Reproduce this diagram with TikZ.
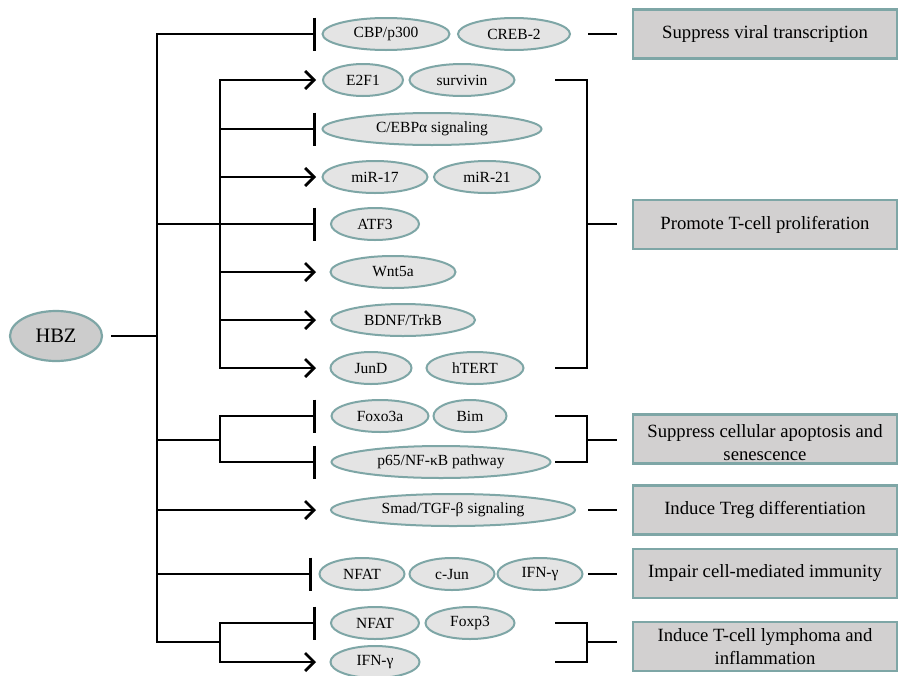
\documentclass[tikz,border=0pt]{standalone}
\usepackage{fontspec}
\setmainfont{Liberation Serif}
\usetikzlibrary{shapes.geometric,arrows.meta}
\definecolor{tealline}{HTML}{7EA6A6}
\definecolor{efill}{HTML}{E4E4E4}
\definecolor{hfill}{HTML}{CCCCCC}
\definecolor{bfill}{HTML}{D2D0D0}
\tikzset{
 gene/.style={ellipse, draw=tealline, line width=2pt, fill=efill, inner sep=0pt, font=\fontsize{15.5}{18}\selectfont, minimum height=32pt},
 effect/.style={rectangle, draw=tealline, line width=2.2pt, fill=bfill, minimum width=264pt, minimum height=49pt, inner sep=0pt, align=center, font=\fontsize{18.7}{23}\selectfont},
 conn/.style={line width=2.8pt, black},
 actip/.tip={Straight Barb[length=9pt,width=18pt]},
 bartip/.tip={Bar[width=33pt]},
 act/.style={conn, -actip},
 inh/.style={conn, -bartip},
}
\begin{document}
\begin{tikzpicture}[x=1pt,y=-1pt]
\fill[white] (0,0) rectangle (899,675);
\useasboundingbox (0,0) rectangle (899,675);

% HBZ
\node[ellipse, draw=tealline, line width=2.2pt, fill=hfill, minimum width=92pt, minimum height=50pt, inner sep=0pt, font=\fontsize{20.5}{24}\selectfont] (hbz) at (56,336) {HBZ};

% genes
\node[gene,minimum width=127pt] (cbp) at (386,34) {CBP/p300};
\node[gene,minimum width=112pt] (creb) at (514,34) {CREB-2};
\node[gene,minimum width=80pt] (e2f1) at (363,80) {E2F1};
\node[gene,minimum width=105pt] (surv) at (462,80) {survivin};
\node[gene,minimum width=219pt] (cebp) at (432,129) {C/EBPα signaling};
\node[gene,minimum width=105pt] (mir17) at (375,177) {miR-17};
\node[gene,minimum width=106pt] (mir21) at (487,177) {miR-21};
\node[gene,minimum width=88pt] (atf3) at (375,224) {ATF3};
\node[gene,minimum width=125pt] (wnt) at (393,272) {Wnt5a};
\node[gene,minimum width=144pt] (bdnf) at (403,320) {BDNF/TrkB};
\node[gene,minimum width=81pt] (jund) at (371,368) {JunD};
\node[gene,minimum width=97pt] (htert) at (475,368) {hTERT};
\node[gene,minimum width=97pt] (foxo) at (380,416) {Foxo3a};
\node[gene,minimum width=73pt] (bim) at (470,416) {Bim};
\node[gene,minimum width=219pt] (p65) at (441,462) {p65/NF-κB pathway};
\node[gene,minimum width=244pt] (smad) at (453,510) {Smad/TGF-β signaling};
\node[gene,minimum width=85pt] (nfata) at (362,574) {NFAT};
\node[gene,minimum width=85pt] (cjun) at (452,574) {c-Jun};
\node[gene,minimum width=85pt] (ifna) at (540,574) {IFN-γ};
\node[gene,minimum width=88pt] (nfatb) at (375,623) {NFAT};
\node[gene,minimum width=89pt] (foxp3) at (470,623) {Foxp3};
\node[gene,minimum width=89pt] (ifnb) at (375,662) {IFN-γ};

% effect boxes
\node[effect] (b1) at (765,34) {Suppress viral transcription};
\node[effect] (b2) at (765,224.5) {Promote T-cell proliferation};
\node[effect] (b3) at (765,439) {};
\node[font=\fontsize{18.7}{23}\selectfont, align=center] (b3t) at (765,443) {Suppress cellular apoptosis and\\senescence};
\node[effect] (b4) at (765,510) {Induce Treg differentiation};
\node[effect] (b5) at (765,573.5) {Impair cell-mediated immunity};
\node[effect] (b6) at (765,646.5) {Induce T-cell lymphoma and\\inflammation};

% junction coordinates
\coordinate (hj) at (157,336);
\coordinate (mt) at (157,34);
\coordinate (mb) at (157,642);
\coordinate (m2) at (157,224);
\coordinate (m3) at (157,440);
\coordinate (m4) at (157,510);
\coordinate (m5) at (157,574);
\coordinate (sa1) at (220,80);
\coordinate (sa2) at (220,368);
\coordinate (sa3) at (220,129);
\coordinate (sa4) at (220,177);
\coordinate (sa6) at (220,272);
\coordinate (sa7) at (220,320);
\coordinate (sb1) at (220,416);
\coordinate (sb2) at (220,462);
\coordinate (sb3) at (220,440);
\coordinate (sc1) at (220,623);
\coordinate (sc2) at (220,662);
\coordinate (sc3) at (220,642);
% tip coordinates
\coordinate (tcbp) at (316,34);
\coordinate (te2f1) at (316,80);
\coordinate (tcebp) at (316,129);
\coordinate (tmir) at (316,177);
\coordinate (tatf) at (316,224);
\coordinate (twnt) at (316,272);
\coordinate (tbdnf) at (316,320);
\coordinate (tjund) at (316,368);
\coordinate (tfoxo) at (316,416);
\coordinate (tp65) at (316,462);
\coordinate (tsmad) at (316,510);
\coordinate (tnfata) at (312,574);
\coordinate (tnfatb) at (316,623);
\coordinate (tifnb) at (316,662);

% left tree
\draw[conn, shorten <=8pt] (hbz.east) -- (hj);
\draw[inh] (sc3) -- (mb) -- (mt) -- (tcbp);
\draw[inh] (m2) -- (tatf);
\draw[conn, actip-actip] (te2f1) -- (sa1) -- (sa2) -- (tjund);
\draw[inh] (sa3) -- (tcebp);
\draw[act] (sa4) -- (tmir);
\draw[act] (sa6) -- (twnt);
\draw[act] (sa7) -- (tbdnf);
\draw[conn] (m3) -- (sb3);
\draw[conn, bartip-bartip] (tfoxo) -- (sb1) -- (sb2) -- (tp65);
\draw[act] (m4) -- (tsmad);
\draw[inh] (m5) -- (tnfata);
\draw[conn, bartip-actip] (tnfatb) -- (sc1) -- (sc2) -- (tifnb);

% right side
\coordinate (ra1) at (555,80);
\coordinate (ra2) at (555,368);
\coordinate (ram) at (587,224);
\coordinate (rb1) at (555,416);
\coordinate (rb2) at (555,462);
\coordinate (rbm) at (587,440);
\coordinate (rc1) at (555,623);
\coordinate (rc2) at (555,662);
\coordinate (rcm) at (587,642);

\draw[conn, shorten <=17pt, shorten >=15pt] (creb.east) -- (b1.west);
\draw[conn] (ra1) -- (587,80) -- (587,368) -- (ra2);
\draw[conn, shorten >=15pt] (ram) -- (b2.west |- ram);
\draw[conn] (rb1) -- (587,416) -- (587,462) -- (rb2);
\draw[conn, shorten >=15pt] (rbm) -- (b3.west |- rbm);
\draw[conn, shorten <=12pt, shorten >=15pt] (smad.east) -- (b4.west);
\draw[conn, shorten <=4.5pt, shorten >=15pt] (ifna.east) -- (b5.west |- ifna.east);
\draw[conn] (rc1) -- (587,623) -- (587,662) -- (rc2);
\draw[conn, shorten >=15pt] (rcm) -- (b6.west |- rcm);
\end{tikzpicture}
\end{document}
